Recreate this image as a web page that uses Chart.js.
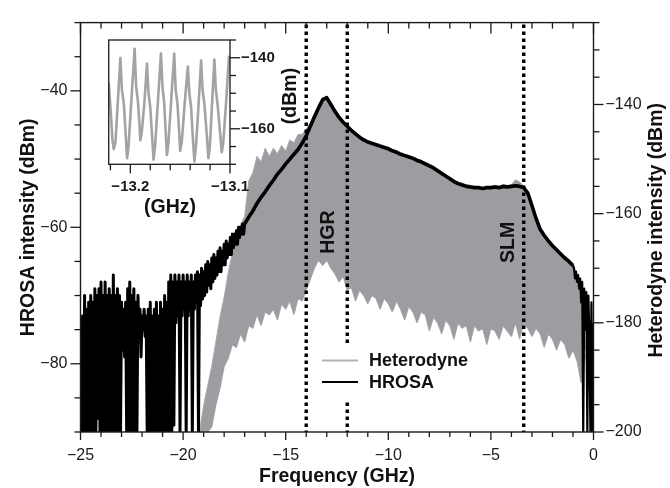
<!DOCTYPE html>
<html><head><meta charset="utf-8">
<script src="https://cdn.jsdelivr.net/npm/chart.js@4.4.1/dist/chart.umd.min.js"></script>
<style>
html,body{margin:0;padding:0;background:#fff;}
#wrap{position:relative;width:670px;height:488px;overflow:hidden;}
#main{position:absolute;left:0;top:0;}
#inset{position:absolute;left:95px;top:20px;}
</style></head><body>
<div id="wrap"><canvas id="main" width="670" height="488"></canvas><canvas id="inset" width="215" height="205"></canvas></div>
<script>
// ---------------- DATA ----------------
// HROSA (left axis, dBm) – noisy low-frequency part, sampled every 0.05 GHz from -25 GHz
const hrosaNoiseStart = -25, hrosaNoiseStep = 0.05;
const hrosaNoise = [
 -74,-90,-73,-90,-70,-90,-72,-90,-71,-90,
 -70,-90,-71,-90,-69,-90,-70,-88,-69,-90,
 -68,-90,-70,-90,-68,-90,-70,-90,-69,-90,
 -70,-90,-67,-90,-70,-90,-69,-90,-70,-90,
 -71,-78,-72,-79,-71,-90,-69,-90,-68,-90,
 -70,-90,-69,-90,-71,-90,-70,-76,-72,-79,
 -73,-75,-72,-76,-73,-90,-72,-90,-71,-90,
 -73,-90,-72,-90,-71,-90,-73,-90,-71,-90,
 -72,-90,-70,-90,-71,-90,-68,-90,-67,-90,
 -68,-89,-67,-74,-68,-73,-67,-90,-68,-73,
 -67,-72,-68,-90,-67,-73,-68,-72,-67,-90,
 -68,-72,-67,-71,-66.5,-90,-67,-71.5,-66,-70.5,
 -66.5,-70,-65.5,-69.5,-65,-68.5,-65.5,-69,-64.5,-68,
 -64,-67.5,-64.5,-67,-63.5,-66.5,-63,-66.5,-63.5,-65.5,
 -62.5,-65.5,-62,-64.5,-62.5,-64,-61.5,-64,-61,-63,
 -61,-62.5,-60.5,-62.5,-60,-61.5,-60,-61,-59.5,-61,
 -59.5
];
// HROSA – main spectrum, every 0.2 GHz from -16.8 GHz
const hrosaSmoothStart = -16.8, hrosaSmoothStep = 0.2;
const hrosaSmooth = [
 -58.5,-57.6,-56.5,-55.6,-54.8,-53.9,-53.1,-52.2,-51.5,-50.7,
 -50.0,-49.3,-48.6,-47.7,-46.6,-45.2,-43.8,-42.5,-41.3,-41.0,
 -42.0,-43.0,-43.9,-44.6,-45.2,-45.8,-46.3,-46.8,-47.2,-47.5,
 -47.7,-47.9,-48.1,-48.3,-48.5,-48.8,-49.0,-49.3,-49.5,-49.7,
 -49.9,-50.2,-50.4,-50.7,-51.0,-51.3,-51.7,-52.1,-52.5,-52.9,
 -53.3,-53.6,-53.8,-54.0,-54.1,-54.2,-54.2,-54.3,-54.2,-54.2,
 -54.1,-54.2,-54.0,-54.1,-54.0,-53.9,-54.0,-54.2,-55.0,-56.8,
 -58.7,-60.3,-61.2,-62.0,-62.7,-63.3,-63.9,-64.5,-65.0,-65.6
];
// HROSA – tail near 0 GHz, every 0.05 GHz from -0.95 GHz
const hrosaTailStart = -0.95, hrosaTailStep = 0.05;
const hrosaTail = [
 -66.0,-67.5,-66.5,-68.0,-67.0,-69.0,-67.5,-71.0,-68.0,-90,
 -69.0,-75.0,-69.5,-90,-70.0,-76.0,-90,-71.0,-90,-74.0
];
// Heterodyne (right axis, dBm) – upper and lower envelope of the beat spectrum, every 0.2 GHz from -19.2 GHz
const hetStart = -19.2, hetStep = 0.2;
const hetUpper = [
 -200,-195.1,-191.5,-187.9,-183.4,-178.9,-175.3,-170.8,-167.2,-164,
 -162,-160.5,-154,-152.5,-149.5,-150.5,-148,-149.5,-148,-149,
 -147.5,-148.5,-146.5,-147,-145.5,-145.5,-144.5,-143.5,-141.8,-140.2,
 -139.0,-138.6,-139.6,-140.9,-142.0,-142.9,-143.7,-144.4,-145.1,-145.7,
 -146.2,-146.6,-146.8,-147.1,-147.3,-147.6,-147.8,-148.2,-148.4,-148.8,
 -149.1,-149.3,-149.6,-149.9,-150.2,-150.6,-150.9,-151.3,-151.8,-152.3,
 -152.8,-153.3,-153.8,-154.2,-154.4,-154.7,-154.8,-154.9,-154.9,-155.1,
 -154.9,-154.9,-154.8,-154.9,-154.7,-154.8,-154.7,-153.8,-154.2,-154.9,
 -155.9,-158.2,-160.6,-162.6,-163.7,-164.7,-165.6,-166.3,-167.1,-167.8,
 -168.4,-169.2,-171.5,-173.4,-185
];
const hetLower = [
 -200,-200,-200,-199,-195,-192,-188,-186.5,-184,-184.5,
 -182,-183.5,-180.5,-181,-178.5,-180.5,-178,-178.5,-177.5,-179.5,
 -176.5,-177.5,-176,-178.5,-175.5,-176,-174,-172,-170,-168.5,
 -169.5,-168.5,-170,-171,-172.5,-171.5,-174,-173.5,-176,-174,
 -175,-176.5,-175,-175.5,-177.5,-175.5,-176.5,-178,-176,-177.5,
 -179.5,-177,-178,-180,-178,-178.5,-181.5,-179,-180,-182,
 -179.5,-180.5,-183,-180,-181,-180.5,-183.5,-180.5,-181.5,-181,
 -184,-181,-181.5,-183,-180.5,-181.5,-182.5,-180,-183,-180,
 -181,-182.5,-181,-182,-184.5,-182,-183,-185,-183,-184,
 -186.5,-185,-187,-191,-186
];
// Inset: heterodyne fine structure (GHz, dBm)
const insetFreq = [
 -13.2217,-13.2195,-13.2180,-13.2167,-13.2150,-13.2125,-13.2100,-13.2085,-13.2065,-13.2048,
 -13.2033,-13.2018,-13.1990,-13.1957,-13.1942,-13.1925,-13.1910,-13.1900,-13.1885,-13.1860,
 -13.1833,-13.1818,-13.1800,-13.1782,-13.1767,-13.1752,-13.1725,-13.1693,-13.1678,-13.1660,
 -13.1645,-13.1633,-13.1618,-13.1590,-13.1560,-13.1545,-13.1527,-13.1512,-13.1500,-13.1485,
 -13.1455,-13.1423,-13.1408,-13.1390,-13.1372,-13.1357,-13.1342,-13.1317,-13.1290,-13.1275,
 -13.1257,-13.1232,-13.1217,-13.1202,-13.1182,-13.1157,-13.1142,-13.1125,-13.1100,-13.1083,
 -13.1068,-13.1040,-13.1010,-13.1000
];
const insetVal = [
 -147,-156,-163,-165.7,-164,-152,-140.1,-149,-153,-161,
 -168.3,-165,-152,-137.5,-148,-152,-158,-163.2,-161,-153,
 -141.6,-150,-154,-162,-168.7,-165,-153,-138.8,-148,-153,
 -161,-167.4,-164,-152,-138.8,-149,-153,-160,-166.2,-164,
 -153,-142.5,-150,-154,-163,-169.2,-165,-154,-140.8,-149,
 -153,-162,-168.3,-165,-154,-140.5,-149,-153,-161,-166.6,
 -164,-153,-139.7,-142
];
// Axis tick labels and tick marks
const xTickLabels = [-25,-20,-15,-10,-5,0];
const xTickMarks = [-25,-24,-23,-22,-21,-20,-19,-18,-17,-16,-15,-14,-13,-12,-11,-10,-9,-8,-7,-6,-5,-4,-3,-2,-1,0];
const leftTickLabels = [-80,-60,-40];
const leftTickMarks = [-90,-85,-80,-75,-70,-65,-60,-55,-50,-45,-40,-35,-30];
const rightTickLabels = [-200,-180,-160,-140];
const rightTickMarks = [-200,-195,-190,-185,-180,-175,-170,-165,-160,-155,-150,-145,-140,-135,-130,-125];
const insetXTickLabels = [-13.2,-13.1];
const insetXTickMarks = [-13.22,-13.2,-13.18,-13.16,-13.14,-13.12,-13.1];
const insetYTickLabels = [-160,-140];
const insetYTickMarks = [-170,-165,-160,-155,-150,-145,-140,-135];
// Marked frequencies (dotted lines) and their labels
const markerFreqs = [-14,-12,-3.4];
const bandNames = ['HGR','SLM'];
const seriesNames = ['Heterodyne','HROSA'];

// ---------------- BUILD ----------------
const FONT = "'Liberation Sans', Arial, Helvetica, sans-serif";
const MINUS = '\u2212';
const fmtInt = v => (v < 0 ? MINUS + Math.abs(v) : String(v));
const fmt1 = v => (v < 0 ? MINUS + Math.abs(v).toFixed(1) : v.toFixed(1));
function series(start, step, vals) {
  return vals.map((v, i) => ({ x: +(start + i * step).toFixed(4), y: v }));
}
const hrosaData = [].concat(
  series(hrosaNoiseStart, hrosaNoiseStep, hrosaNoise),
  series(hrosaSmoothStart, hrosaSmoothStep, hrosaSmooth),
  series(hrosaTailStart, hrosaTailStep, hrosaTail)
);
const hetUpperData = series(hetStart, hetStep, hetUpper);
const hetLowerData = series(hetStart, hetStep, hetLower);
const insetData = insetFreq.map((f, i) => ({ x: f, y: insetVal[i] }));

function tickLine(ctx, x1, y1, x2, y2) {
  ctx.beginPath(); ctx.moveTo(x1, y1); ctx.lineTo(x2, y2); ctx.stroke();
}

const mainDecor = {
  id: 'mainDecor',
  afterDatasetsDraw(chart) {
    const ctx = chart.ctx, a = chart.chartArea;
    const xs = chart.scales.x, yl = chart.scales.yL;
    ctx.save();
    // dotted marker lines
    ctx.strokeStyle = '#000'; ctx.lineWidth = 3.4; ctx.setLineDash([3.4, 3.6]);
    markerFreqs.forEach(f => {
      const px = xs.getPixelForValue(f);
      tickLine(ctx, px, a.top + 2, px, a.bottom);
    });
    ctx.setLineDash([]);
    // band labels
    ctx.fillStyle = '#111';
    ctx.font = 'bold 19.5px ' + FONT;
    ctx.textAlign = 'center'; ctx.textBaseline = 'middle';
    const labelPos = [[-12.93, -60.7], [-4.16, -62.2]];
    bandNames.forEach((n, i) => {
      ctx.save();
      ctx.translate(xs.getPixelForValue(labelPos[i][0]), yl.getPixelForValue(labelPos[i][1]));
      ctx.rotate(-Math.PI / 2);
      ctx.fillText(n, 0, 0);
      ctx.restore();
    });
    // legend
    const lx = a.left + 241.5, ly = a.top + 338;
    ctx.fillStyle = '#fff';
    ctx.fillRect(lx - 6, ly - 17, 156, 56);
    ctx.lineWidth = 2;
    ctx.strokeStyle = '#b3b3b3'; tickLine(ctx, lx, ly, lx + 36, ly);
    ctx.strokeStyle = '#000'; tickLine(ctx, lx, ly + 21.5, lx + 36, ly + 21.5);
    ctx.fillStyle = '#111'; ctx.font = 'bold 18px ' + FONT;
    ctx.textAlign = 'left'; ctx.textBaseline = 'middle';
    ctx.fillText(seriesNames[0], lx + 47, ly + 0.5);
    ctx.fillText(seriesNames[1], lx + 47, ly + 22);
    ctx.restore();
  },
  afterDraw(chart) {
    const ctx = chart.ctx, a = chart.chartArea;
    const xs = chart.scales.x, yl = chart.scales.yL, yr = chart.scales.yR;
    ctx.save();
    ctx.strokeStyle = '#1a1a1a'; ctx.lineWidth = 1.4;
    ctx.strokeRect(a.left, a.top, a.right - a.left, a.bottom - a.top);
    ctx.lineWidth = 1.3;
    leftTickMarks.forEach(v => {
      const py = yl.getPixelForValue(v), L = leftTickLabels.includes(v) ? 10 : 6;
      tickLine(ctx, a.left, py, a.left - L, py);
    });
    rightTickMarks.forEach(v => {
      const py = yr.getPixelForValue(v), L = rightTickLabels.includes(v) ? 10 : 6;
      tickLine(ctx, a.right, py, a.right + L, py);
    });
    xTickMarks.forEach(v => {
      const px = xs.getPixelForValue(v), maj = xTickLabels.includes(v);
      tickLine(ctx, px, a.bottom, px, a.bottom + (maj ? 8 : 5));
      tickLine(ctx, px, a.top, px, a.top + (maj ? 11 : 6));
    });
    // right axis title (reads bottom to top)
    ctx.fillStyle = '#111'; ctx.font = 'bold 19.5px ' + FONT;
    ctx.textAlign = 'center'; ctx.textBaseline = 'middle';
    ctx.translate(656.5, (a.top + a.bottom) / 2 + 3);
    ctx.rotate(-Math.PI / 2);
    ctx.fillText('Heterodyne intensity (dBm)', 0, 0);
    ctx.restore();
  }
};

const tickFont = { family: FONT, size: 16 };
const noGrid = { display: false, drawTicks: false };
new Chart(document.getElementById('main'), {
  type: 'line',
  data: {
    datasets: [
      {
        label: 'HROSA', data: hrosaData, yAxisID: 'yL', borderColor: '#000',
        borderWidth: 3, pointRadius: 0, tension: 0, borderJoinStyle: 'round', borderCapStyle: 'butt', fill: false,
        segment: {
          borderWidth: c => (c.p0.parsed.x < -17.01) ? 3 : (c.p0.parsed.x > -1.01 ? 2.2 : 3.6)
        }
      },
      {
        label: 'Heterodyne', data: hetUpperData, yAxisID: 'yR', borderColor: '#a9a9ad',
        backgroundColor: '#9c9ca1', borderWidth: 1, pointRadius: 0, tension: 0,
        borderJoinStyle: 'bevel', fill: '+1'
      },
      {
        label: 'Heterodyne lower', data: hetLowerData, yAxisID: 'yR', borderColor: '#afafb3',
        borderWidth: 1.2, pointRadius: 0, tension: 0, borderJoinStyle: 'bevel', fill: false
      }
    ]
  },
  options: {
    responsive: false, animation: false, events: [],
    layout: { padding: { top: 16, left: 0, right: 0, bottom: 0 } },
    plugins: { legend: { display: false }, tooltip: { enabled: false } },
    scales: {
      x: {
        type: 'linear', position: 'bottom', min: -25, max: 0,
        afterBuildTicks: s => { s.ticks = xTickLabels.map(v => ({ value: v })); },
        afterFit: s => { s.height = 56; },
        ticks: { callback: v => fmtInt(v), font: tickFont, color: '#1a1a1a', padding: 14, maxRotation: 0, autoSkip: false },
        grid: noGrid, border: { display: false },
        title: { display: true, text: 'Frequency (GHz)', font: { family: FONT, size: 19.5, weight: 'bold' }, color: '#111', padding: { top: 0, bottom: 0 } }
      },
      yL: {
        type: 'linear', position: 'left', min: -90, max: -30,
        afterBuildTicks: s => { s.ticks = leftTickLabels.map(v => ({ value: v })); },
        afterFit: s => { s.width = 80.5; },
        ticks: { callback: v => fmtInt(v), font: tickFont, color: '#1a1a1a', padding: 13, autoSkip: false },
        grid: noGrid, border: { display: false },
        title: { display: true, text: 'HROSA intensity (dBm)', font: { family: FONT, size: 19.5, weight: 'bold' }, color: '#111', padding: { top: 16.5, bottom: 0 } }
      },
      yR: {
        type: 'linear', position: 'right', min: -200, max: -125,
        afterBuildTicks: s => { s.ticks = rightTickLabels.map(v => ({ value: v })); },
        afterFit: s => { s.width = 76.5; },
        ticks: { callback: v => fmtInt(v), font: tickFont, color: '#1a1a1a', padding: 12, autoSkip: false },
        grid: noGrid, border: { display: false }
      }
    }
  },
  plugins: [mainDecor]
});

// ---------------- INSET ----------------
const insetDecor = {
  id: 'insetDecor',
  afterDraw(chart) {
    const ctx = chart.ctx, a = chart.chartArea;
    const xs = chart.scales.x, ys = chart.scales.y;
    ctx.save();
    ctx.strokeStyle = '#1a1a1a'; ctx.lineWidth = 1.3;
    ctx.strokeRect(a.left, a.top, a.right - a.left, a.bottom - a.top);
    insetXTickMarks.forEach(v => {
      const px = xs.getPixelForValue(v), maj = insetXTickLabels.some(t => Math.abs(t - v) < 1e-6);
      tickLine(ctx, px, a.bottom, px, a.bottom + (maj ? 9 : 6));
    });
    insetYTickMarks.forEach(v => {
      const py = ys.getPixelForValue(v), maj = insetYTickLabels.includes(v);
      tickLine(ctx, a.right, py, a.right + (maj ? 10 : 6), py);
    });
    ctx.fillStyle = '#111'; ctx.font = 'bold 19.5px ' + FONT;
    ctx.textAlign = 'center'; ctx.textBaseline = 'middle';
    ctx.fillText('(GHz)', 75, 188);
    ctx.translate(195.5, 76);
    ctx.rotate(-Math.PI / 2);
    ctx.fillText('(dBm)', 0, 0);
    ctx.restore();
  }
};
const insetTickFont = { family: FONT, size: 15, weight: 'bold' };
new Chart(document.getElementById('inset'), {
  type: 'line',
  data: { datasets: [{ label: 'inset', data: insetData, borderColor: '#a3a3a3', borderWidth: 2.6, pointRadius: 0, tension: 0, borderJoinStyle: 'round', fill: false }] },
  options: {
    responsive: false, animation: false, events: [],
    layout: { padding: { left: 13.3, top: 8.5, right: 0, bottom: 0 } },
    plugins: { legend: { display: false }, tooltip: { enabled: false } },
    scales: {
      x: {
        type: 'linear', min: -13.2217, max: -13.1,
        afterBuildTicks: s => { s.ticks = insetXTickLabels.map(v => ({ value: v })); },
        afterFit: s => { s.height = 60.7; },
        ticks: { callback: v => fmt1(v), font: insetTickFont, color: '#1a1a1a', padding: 14, maxRotation: 0, autoSkip: false },
        grid: noGrid, border: { display: false }
      },
      y: {
        type: 'linear', position: 'right', min: -170, max: -135,
        afterBuildTicks: s => { s.ticks = insetYTickLabels.map(v => ({ value: v })); },
        afterFit: s => { s.width = 80; },
        ticks: { callback: v => fmtInt(v), font: insetTickFont, color: '#1a1a1a', padding: 11, autoSkip: false },
        grid: noGrid, border: { display: false }
      }
    }
  },
  plugins: [insetDecor]
});
</script>
</body></html>
